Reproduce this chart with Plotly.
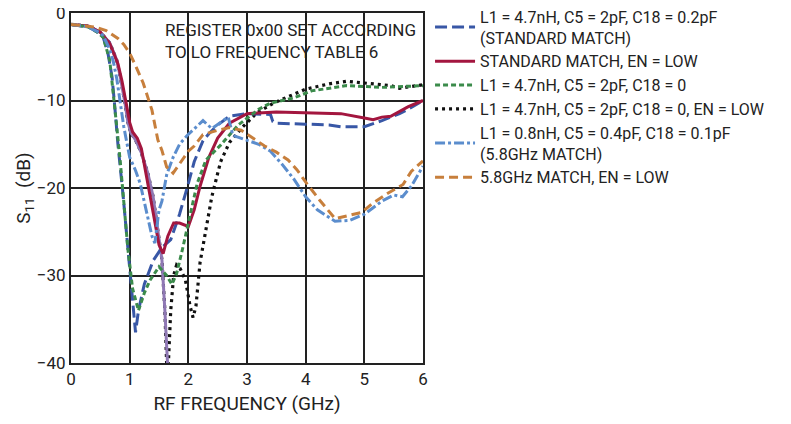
import plotly.graph_objects as go

# --- data (GHz, dB) ---
std_f = [0, 0.3, 0.45, 0.55, 0.63, 0.7, 0.75, 0.8, 0.89, 0.97, 1.05, 1.1, 1.15, 1.25, 1.4, 1.55,
         1.7, 1.85, 2.0, 2.1, 2.25, 2.35, 2.5, 2.7, 3.0, 3.4, 3.44, 3.5, 4.0, 4.4, 4.6, 5.0, 5.3,
         5.6, 5.8, 6.0]
std_db = [-1.3, -1.6, -2.2, -2.8, -4.6, -7.3, -11, -15, -21, -27, -33, -36.5, -34, -31, -28.3, -26.8,
          -25.9, -23, -19.5, -17, -14.6, -13.8, -12.8, -11.8, -11.5, -11.6, -12.4, -12.6, -12.7, -12.8,
          -13.0, -13.0, -12.3, -11.5, -10.8, -10]

stdlow_f = [0, 0.3, 0.5, 0.66, 0.8, 0.87, 0.94, 1.0, 1.05, 1.13, 1.2, 1.3, 1.4, 1.5, 1.57, 1.65,
            1.75, 1.85, 2.0, 2.1, 2.2, 2.35, 2.5, 2.7, 3.0, 3.5, 4.0, 4.6, 5.0, 5.15, 5.3, 5.45, 5.75, 6.0]
stdlow_db = [-1.3, -1.5, -2.2, -3.5, -5.8, -7.8, -10.3, -12.5, -13.6, -14.3, -15.5, -19, -22.8, -26.5,
             -27.5, -25.5, -24, -24, -24.4, -22.5, -19.8, -16.5, -14.3, -12.6, -11.5, -11.3, -11.4,
             -11.5, -12, -12.2, -11.9, -11.8, -10.7, -10]

c18zero_f = [0, 0.3, 0.45, 0.55, 0.66, 0.72, 0.78, 0.84, 0.9, 0.97, 1.05, 1.15, 1.25, 1.35, 1.5,
             1.63, 1.72, 1.8, 1.9, 2.0, 2.15, 2.3, 2.55, 2.85, 3.2, 3.4, 3.8, 4.1, 4.7, 5.3, 6.0]
c18zero_db = [-1.3, -1.6, -2.2, -2.8, -5.4, -9, -13, -17, -21.5, -27, -31.5, -34, -32, -30.5, -29,
              -30, -31, -29.8, -27, -24, -19.5, -16.8, -15.1, -12.8, -11, -10.3, -9.7, -8.9, -8.3,
              -8.5, -8.3]

c18zerolow_f = [0, 0.3, 0.5, 0.66, 0.78, 0.84, 0.92, 0.97, 1.02, 1.1, 1.2, 1.31, 1.4, 1.48, 1.55,
                1.6, 1.64, 1.66, 1.7, 1.75, 1.8, 1.86, 1.95, 2.03, 2.08, 2.13, 2.2, 2.28, 2.4, 2.55,
                2.7, 2.93, 3.17, 3.45, 3.85, 4.0, 4.4, 4.7, 5.0, 5.45, 5.6, 6.0]
c18zerolow_db = [-1.3, -1.5, -2.2, -3.4, -5.4, -7.3, -10.3, -12.5, -13.7, -14.5, -16, -18.3, -21,
                 -24.8, -28.2, -34, -42, -40, -34, -30, -28.8, -29.2, -30.5, -33.5, -34.8, -33.5,
                 -28.5, -25.5, -21, -17, -14.8, -13, -11.4, -10.3, -9.2, -8.7, -8.1, -7.8, -8,
                 -8.3, -8.6, -8.2]

m58_f = [0, 0.3, 0.5, 0.55, 0.65, 0.72, 0.78, 0.83, 0.9, 1.0, 1.1, 1.18, 1.29, 1.38, 1.43, 1.5,
         1.55, 1.63, 1.74, 1.85, 1.98, 2.1, 2.25, 2.4, 2.55, 2.68, 2.76, 3.0, 3.2, 3.4, 3.6, 3.8,
         4.0, 4.2, 4.5, 4.75, 5.0, 5.3, 5.5, 5.65, 5.8, 6.0]
m58_db = [-1.3, -1.6, -2.3, -2.6, -4, -5.5, -7.5, -10, -13, -16.5, -18, -19.5, -23, -25.5, -26.3,
          -22.5, -21.5, -18.5, -16.5, -15, -14, -13.2, -12.3, -13.2, -12.5, -11.9, -14, -14.5, -15,
          -15.8, -17.3, -19, -21, -22.5, -23.8, -23.7, -23, -21.5, -20.8, -21, -19.8, -17.5]

m58low_f = [0, 0.4, 0.6, 0.8, 0.9, 1.0, 1.1, 1.23, 1.38, 1.48, 1.55, 1.63, 1.74, 1.86, 2.0, 2.1,
            2.25, 2.5, 2.7, 2.9, 3.05, 3.3, 3.5, 3.7, 3.85, 4.02, 4.24, 4.5, 4.76, 4.95, 5.15, 5.4,
            5.66, 5.8, 6.0]
m58low_db = [-1.3, -1.6, -2, -2.9, -3.6, -4.6, -6, -8, -11.1, -14.5, -15.7, -17.6, -18.3, -17.1,
             -15.8, -15.2, -13.9, -13.4, -13.1, -13.4, -14.1, -15.2, -15.9, -16.8, -17.9, -19.5,
             -21.4, -23.5, -23.1, -22.8, -21.7, -20.6, -19.6, -18.1, -16.9]

# unlabelled purple trace
purple_f = [0, 0.3, 0.5, 0.66, 0.78, 0.84, 0.92, 0.97, 1.02, 1.1, 1.2, 1.31, 1.4, 1.48, 1.55, 1.6, 1.66]
purple_db = [-1.3, -1.5, -2.2, -3.4, -5.4, -7.3, -10.3, -12.5, -13.7, -14.5, -16, -18.3, -21, -24.8,
             -28.2, -34, -42]

FONT = "Roboto, sans-serif"

fig = go.Figure()

series = [
    (std_f, std_db, 'L1 = 4.7nH, C5 = 2pF, C18 = 0.2pF<br>(STANDARD MATCH)', '#3857a6', '12px,5px', 3),
    (stdlow_f, stdlow_db, 'STANDARD MATCH, EN = LOW', '#a3163f', 'solid', 3),
    (c18zero_f, c18zero_db, 'L1 = 4.7nH, C5 = 2pF, C18 = 0', '#3b8b4b', '5px,3px', 3),
    (c18zerolow_f, c18zerolow_db, 'L1 = 4.7nH, C5 = 2pF, C18 = 0, EN = LOW', '#111111', '3px,4px', 3.2),
    (m58_f, m58_db, 'L1 = 0.8nH, C5 = 0.4pF, C18 = 0.1pF<br>(5.8GHz MATCH)', '#5b8dcd', '10px,3px,3px,3px', 3),
    (m58low_f, m58low_db, '5.8GHz MATCH, EN = LOW', '#c77f3c', '9px,5px', 3),
]

# black dotted goes underneath, then the purple trace, then the rest
draw_order = [3, 'purple', 0, 1, 2, 4, 5]
for k in draw_order:
    if k == 'purple':
        fig.add_trace(go.Scatter(x=purple_f, y=purple_db, mode='lines', showlegend=False,
                                 line=dict(color='#8f78b4', width=3)))
        continue
    f, db, name, color, dash, w = series[k]
    fig.add_trace(go.Scatter(
        x=f, y=db, mode='lines', name=name, legendrank=k + 1,
        line=dict(color=color, width=w, dash=dash),
    ))

fig.add_annotation(
    x=1.57, y=-0.6, xref='x', yref='y', xanchor='left', yanchor='top', align='left',
    text='REGISTER 0x00 SET ACCORDING<br>TO LO FREQUENCY TABLE 6', showarrow=False,
    font=dict(family=FONT, size=17, color='#222222'),
)

# the page body adds an 8px offset, so margins are shifted to compensate
fig.update_layout(
    width=791, height=424,
    margin=dict(l=63, r=376, t=5, b=69, autoexpand=False),
    paper_bgcolor='white', plot_bgcolor='white',
    font=dict(family=FONT, size=16, color='#222222'),
    xaxis=dict(range=[0, 6], dtick=1, showgrid=True, gridcolor='#222222', gridwidth=1.5,
               showline=True, linecolor='#222222', linewidth=2, mirror=True, zeroline=False,
               ticks='', title=dict(text='RF FREQUENCY (GHz)', standoff=8),
               tickfont=dict(size=17), ticklabeloverflow='allow'),
    yaxis=dict(range=[-40, 0], dtick=10, showgrid=True, gridcolor='#222222', gridwidth=1.5,
               showline=True, linecolor='#222222', linewidth=2, mirror=True, zeroline=False,
               ticks='', title=dict(text='S<sub>11</sub>  (dB)', standoff=1),
               tickfont=dict(size=17), ticklabeloverflow='allow'),
    legend=dict(x=1.02, y=1.038, xanchor='left', yanchor='top', bgcolor='rgba(0,0,0,0)',
                font=dict(size=16), tracegroupgap=0, itemwidth=40),
)

fig.write_html("out.html")
